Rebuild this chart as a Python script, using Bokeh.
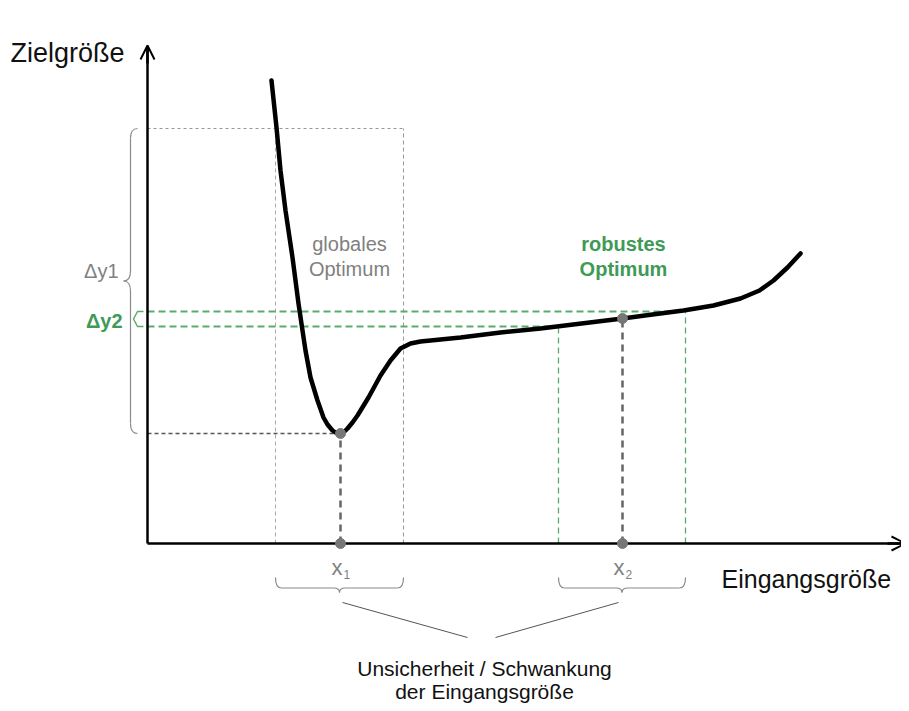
import numpy as np
from bokeh.plotting import figure
from bokeh.models import Range1d, Arrow, OpenHead
from bokeh.core.properties import value
from bokeh.embed import file_html
from bokeh.resources import INLINE

# ---- data (diagram coordinates: origin at axis corner, y up) ----
curve_x = [124, 129, 133, 138, 145, 151, 155, 158, 163, 170, 176, 180, 185, 188, 192, 196, 200,
           205, 210, 221, 233, 243, 253, 263, 273, 283, 313, 353, 393, 434, 475, 505, 536, 566,
           593, 612, 626, 640, 653]
curve_y = [463, 416, 373, 333, 286, 240, 213, 193, 166, 143, 126, 119, 113, 111, 110, 111, 115,
           121, 128, 146, 168, 183, 195, 200, 202, 203, 206, 211, 215, 220, 225, 229, 233, 238,
           245, 253, 263, 276, 290]

x1, y1 = 193, 110          # globales Optimum
x2, y2 = 475, 225          # robustes Optimum
x1_interval = [128, 256]   # Schwankung um x1
x2_interval = [411, 538]   # Schwankung um x2
dy1_range = [110, 415]     # y-Spanne globales Optimum
dy2_range = [217, 232]     # y-Spanne robustes Optimum

axis_label_y = "Zielgröße"
axis_label_x = "Eingangsgröße"
label_global = ["globales", "Optimum"]
label_robust = ["robustes", "Optimum"]
label_uncert = ["Unsicherheit / Schwankung", "der Eingangsgröße"]

GREEN = "#3f9a57"
GREEN_L = "#5aac6c"
GRAY_B = "#8a8a8a"
FONT = value("Liberation Sans")

p = figure(width=901, height=703, output_backend="svg", toolbar_location=None,
           x_range=Range1d(-147, 754), y_range=Range1d(-160, 543),
           x_axis_type=None, y_axis_type=None, min_border=0)
p.grid.visible = False
p.outline_line_color = None
p.background_fill_color = "white"
p.border_fill_color = "white"

# ---- gray dotted box (globales Optimum) ----
top_gray = dy1_range[1]
p.line([0, x1_interval[1]], [top_gray, top_gray], line_color="#999999", line_width=1, line_dash="3 3")
p.line([x1_interval[0], x1_interval[0]], [0, top_gray], line_color="#aaaaaa", line_width=1, line_dash="4 3")
p.line([x1_interval[1], x1_interval[1]], [0, top_gray], line_color="#999999", line_width=1, line_dash="4 3")
p.line([0, x1], [y1, y1], line_color="#555555", line_width=1.3, line_dash="4 3")
p.line([x1, x1], [0, y1], line_color="#666666", line_width=2.5, line_dash="7 5")

# ---- green dashed (robustes Optimum) ----
p.line([0, x2_interval[1]], [dy2_range[1], dy2_range[1]], line_color=GREEN_L, line_width=1.8, line_dash="7 4")
p.line([0, x2_interval[0] + 5], [dy2_range[0], dy2_range[0]], line_color=GREEN_L, line_width=1.8, line_dash="7 4")
p.line([x2_interval[0], x2_interval[0]], [0, dy2_range[0]], line_color=GREEN_L, line_width=1.3, line_dash="6 4")
p.line([x2_interval[1], x2_interval[1]], [0, dy2_range[1]], line_color=GREEN_L, line_width=1.3, line_dash="6 4")
p.line([x2, x2], [0, y2], line_color="#666666", line_width=2.5, line_dash="7 5")

# ---- curve ----
p.line(curve_x, curve_y, line_color="black", line_width=4.5, line_join="round", line_cap="round")

# ---- axes ----
p.line([0, 0], [0, 496], line_color="black", line_width=2.5)
p.line([0, 760], [0, 0], line_color="black", line_width=2.5)
p.add_layout(Arrow(end=OpenHead(size=14, line_width=2), x_start=0, y_start=480, x_end=0, y_end=498,
                   line_color="black", line_width=2.5))
p.add_layout(Arrow(end=OpenHead(size=14, line_width=2), x_start=740, y_start=0, x_end=758, y_end=0,
                   line_color="black", line_width=2.5))

# ---- points ----
p.scatter([x1, x2, x1, x2], [y1, y2, 0, 0], size=10, color="#777777")

# ---- braces ----
def vbrace(xr, ya, yb, w):
    ym = (ya + yb) / 2
    xm = xr - w / 2
    xt = xr - w
    r = 10
    segs = [
        (xr, yb, xm, yb - r, xm, yb),
        (xm, ym + r, xt, ym, xm, ym),
        (xt, ym, xm, ym - r, xm, ym),
        (xm, ya + r, xr, ya, xm, ya),
    ]
    for (x0, y0, x1_, y1_, cx, cy) in segs:
        p.quadratic(x0=x0, y0=y0, x1=x1_, y1=y1_, cx=cx, cy=cy, line_color=GRAY_B, line_width=1.2)
    p.line([xm, xm], [ya + r, ym - r], line_color=GRAY_B, line_width=1.2)
    p.line([xm, xm], [ym + r, yb - r], line_color=GRAY_B, line_width=1.2)

def hbrace(xa, xb, yt, h, col):
    xm_ = (xa + xb) / 2
    ym_ = yt - h * 0.7
    yt2 = yt - h
    r = 6
    segs = [
        (xa, yt, xa + r, ym_, xa, ym_),
        (xm_ - r, ym_, xm_, yt2, xm_, ym_),
        (xm_, yt2, xm_ + r, ym_, xm_, ym_),
        (xb - r, ym_, xb, yt, xb, ym_),
    ]
    for (x0, y0, x1_, y1_, cx, cy) in segs:
        p.quadratic(x0=x0, y0=y0, x1=x1_, y1=y1_, cx=cx, cy=cy, line_color=col, line_width=1.2)
    p.line([xa + r, xm_ - r], [ym_, ym_], line_color=col, line_width=1.2)
    p.line([xm_ + r, xb - r], [ym_, ym_], line_color=col, line_width=1.2)

vbrace(-10, dy1_range[0], dy1_range[1], 14)
gy0, gy1 = dy2_range
p.line([-4, -10, -14, -10, -4], [gy1, gy1, (gy0 + gy1) / 2, gy0, gy0], line_color=GREEN_L, line_width=1.5)
hbrace(x1_interval[0], x1_interval[1], -34, 15, GRAY_B)
hbrace(x2_interval[0], x2_interval[1], -34, 15, GRAY_B)

# connector lines
p.line([195, 320], [-59, -94], line_color="#555555", line_width=1)
p.line([471, 348], [-59, -94], line_color="#555555", line_width=1)

# ---- texts ----
p.text(x=[-137], y=[491], text=[axis_label_y], text_font=FONT, text_font_size="27px",
       text_color="#111111", text_baseline="middle", text_align="left")
p.text(x=[574], y=[-35], text=[axis_label_x], text_font=FONT, text_font_size="25px",
       text_color="#111111", text_baseline="middle", text_align="left")
p.text(x=[202, 202], y=[300, 275], text=label_global, text_font=FONT, text_font_size="20px",
       text_color="#808080", text_baseline="middle", text_align="center")
p.text(x=[476, 476], y=[300, 275], text=label_robust, text_font=FONT, text_font_size="20px",
       text_font_style="bold", text_color=GREEN, text_baseline="middle", text_align="center")
p.text(x=[337, 337], y=[-125, -148], text=label_uncert, text_font=FONT, text_font_size="21px",
       text_color="#111111", text_baseline="middle", text_align="center")
p.text(x=[-29], y=[273], text=["Δy1"], text_font=FONT, text_font_size="20px",
       text_color="#808080", text_baseline="middle", text_align="right")
p.text(x=[-25], y=[223], text=["Δy2"], text_font=FONT, text_font_size="20px", text_font_style="bold",
       text_color=GREEN, text_baseline="middle", text_align="right")
p.text(x=[x1 + 2, x2 + 2], y=[-24, -24], text=["x", "x"], text_font=FONT, text_font_size="22px",
       text_color="#808080", text_baseline="middle", text_align="right")
p.text(x=[x1 + 3, x2 + 3], y=[-31, -31], text=["1", "2"], text_font=FONT, text_font_size="12px",
       text_color="#808080", text_baseline="middle", text_align="left")

open("out.html", "w").write(file_html(p, INLINE))
